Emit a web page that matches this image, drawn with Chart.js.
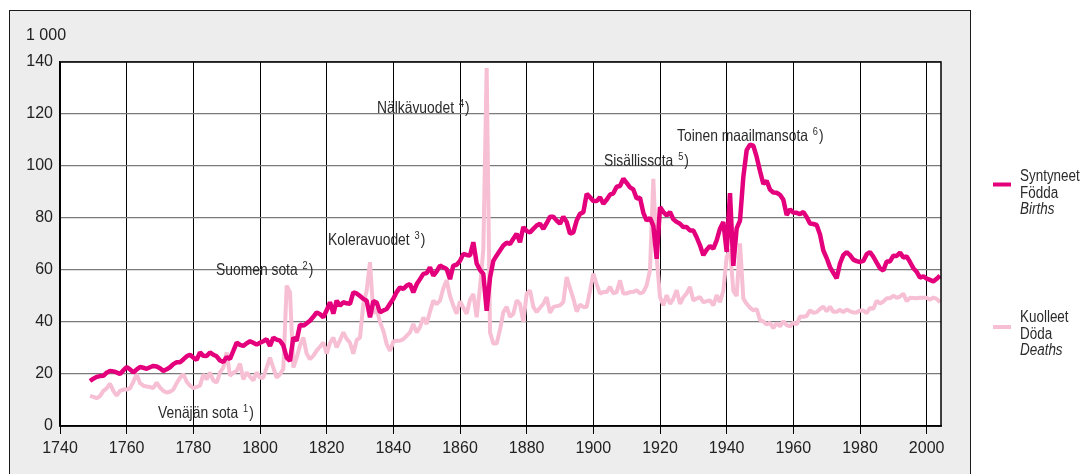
<!DOCTYPE html>
<html>
<head>
<meta charset="utf-8">
<script src="https://cdn.jsdelivr.net/npm/chart.js@4.4.1/dist/chart.umd.min.js"></script>
<style>
html,body{margin:0;padding:0;background:#fff;}
#c{display:block;}
</style>
</head>
<body>
<canvas id="c" width="1084" height="474"></canvas>
<script>
// ---- data ----
const firstYear = 1749;
const births = [
17.3,
18.2,18.9,19.2,19.3,20.5,21.2,21.0,20.6,20.0,21.4,
22.7,21.8,20.6,21.7,22.7,22.4,22.0,22.6,23.1,22.9,
22.2,21.2,21.8,22.6,23.8,24.5,24.5,25.6,26.8,27.4,
26.3,25.4,28.3,27.0,26.9,28.3,27.4,26.8,25.2,24.6,
26.5,25.8,28.9,32.1,31.2,30.8,31.8,32.6,32.0,31.3,
32.0,32.6,33.4,30.8,34.0,33.2,32.8,31.0,26.3,25.0,
34.0,32.8,39.0,38.6,39.5,40.5,42.0,43.7,43.0,41.8,
44.5,47.6,43.2,48.2,46.3,47.6,47.2,47.0,51.4,51.0,
50.0,48.9,48.2,41.8,48.0,47.5,43.7,44.4,45.0,47.0,
48.9,51.5,53.3,52.7,54.0,54.6,51.4,54.5,56.5,58.5,
58.8,61.0,57.8,59.5,61.7,61.0,60.4,56.5,61.7,62.0,
63.5,66.2,65.8,65.6,70.7,62.5,60.0,58.5,44.3,57.0,
63.5,65.6,67.5,69.4,70.5,70.0,72.0,73.9,70.7,76.5,
75.0,74.5,75.8,77.1,77.8,75.8,78.0,80.5,80.5,79.0,
77.8,80.5,78.5,74.0,74.5,79.0,81.6,82.2,89.3,88.0,
86.5,86.5,88.0,85.5,87.0,89.0,89.5,92.0,92.3,95.1,
93.5,91.8,91.0,87.5,87.8,82.0,79.0,80.0,77.0,64.3,
84.2,82.3,81.0,82.3,79.5,78.5,77.8,76.5,76.5,75.2,
75.2,72.6,69.5,65.7,67.8,69.2,68.2,71.4,75.9,78.5,
67.0,89.6,61.6,76.0,79.0,95.8,106.1,108.2,107.8,103.5,
98.1,93.1,94.3,90.9,89.8,89.7,88.9,87.0,81.1,83.3,
82.1,82.0,81.5,82.3,80.4,77.9,77.7,77.3,73.7,67.5,
64.6,61.1,58.9,56.8,62.5,65.7,66.9,65.7,64.0,63.4,
63.1,63.5,66.1,66.9,65.1,62.8,60.6,59.8,63.3,63.3,
65.5,65.4,66.7,64.8,65.2,63.1,60.7,59.3,57.1,57.6,
56.7,56.2,55.6,56.6,57.8
];
const deaths = [
11.6,
11.2,10.7,11.5,13.5,14.5,16.3,13.5,11.7,13.5,14.0,
14.0,14.5,17.0,19.9,16.5,15.5,15.2,15.0,14.6,16.7,
14.8,13.5,12.9,13.2,14.0,16.5,18.5,20.0,17.0,15.5,
14.6,15.0,15.5,19.9,17.9,20.6,17.5,16.7,20.6,22.5,
28.3,19.3,20.5,21.2,24.0,17.9,20.6,19.0,17.5,20.6,
18.6,18.6,22.5,26.3,22.4,18.6,19.9,22.0,54.0,51.4,
22.5,26.3,31.0,34.0,27.8,25.7,27.0,29.0,30.5,32.1,
27.8,32.0,34.0,30.2,33.0,36.0,33.5,32.0,27.8,33.0,
34.0,46.9,52.0,63.0,43.2,45.0,40.0,36.6,31.5,28.9,
32.5,32.8,32.8,33.4,34.7,36.0,39.2,36.0,38.0,41.8,
39.2,44.0,48.2,46.9,48.2,53.0,56.0,50.0,46.3,43.2,
48.0,45.5,43.2,48.5,50.8,41.8,53.3,68.0,137.7,36.0,
31.7,31.7,37.0,43.8,45.8,42.0,43.2,48.3,47.0,40.0,
50.9,52.2,45.8,43.8,45.5,47.0,49.6,43.5,45.8,46.1,
46.4,47.7,57.3,53.0,49.0,44.0,46.7,45.8,45.8,52.0,
58.6,54.5,50.9,51.5,51.5,53.5,51.0,51.5,56.0,51.0,
51.0,51.5,51.6,52.2,51.0,51.5,54.1,59.9,95.1,65.0,
49.6,46.4,50.3,47.0,49.0,52.2,47.0,49.5,51.0,53.5,
48.3,49.0,49.6,47.6,48.0,48.3,46.4,50.3,47.6,52.0,
65.0,68.0,52.0,50.0,70.2,49.0,47.0,45.5,44.5,45.0,
40.7,40.2,39.0,39.7,37.6,39.6,38.3,40.3,38.8,38.3,
39.8,39.0,42.1,42.0,42.3,44.5,43.5,43.8,45.0,45.9,
44.1,45.9,43.9,43.9,44.7,43.8,44.8,44.1,43.7,43.7,
44.4,44.4,43.4,45.4,45.1,48.2,47.1,47.9,49.1,49.1,
50.1,49.3,49.8,50.9,48.0,49.3,49.2,49.1,49.3,49.3,
49.3,48.6,49.4,48.9,47.6
];
const xTickLabels = [1740,1760,1780,1800,1820,1840,1860,1880,1900,1920,1940,1960,1980,2000];
const yTickLabels = [0,20,40,60,80,100,120,140];
const unitLabel = '1 000';
const birthsLegend = ['Syntyneet','Födda','Births'];
const deathsLegend = ['Kuolleet','Döda','Deaths'];
const eventNames = ['Venäjän sota','Suomen sota','Koleravuodet','Nälkävuodet','Sisällissota','Toinen maailmansota'];
const eventNotes = ['1','2','3','4','5','6'];

// ---- build ----
const toPoints = arr => arr.map((v,i)=>({x:firstYear+i, y:v}));
const BIRTH_COL = '#e4007c';
const DEATH_COL = '#f7bfd3';
const FONT = '"Liberation Sans", Arial, sans-serif';
const W = 1084, H = 474;

function narrowText(ctx, str, x, y, size, opts){
  opts = opts || {};
  const sx = 0.84;
  ctx.save();
  ctx.translate(x, y);
  ctx.scale(sx, 1);
  ctx.font = (opts.italic ? 'italic ' : '') + size + 'px ' + FONT;
  ctx.fillStyle = opts.color || '#2b2b2b';
  ctx.textBaseline = 'alphabetic';
  ctx.textAlign = 'left';
  ctx.fillText(str, 0, 0);
  const w = ctx.measureText(str).width * sx;
  ctx.restore();
  return w;
}
function annotate(ctx, name, note, x, y){
  let w = narrowText(ctx, name + ' ', x, y, 16.5);
  let w2 = narrowText(ctx, note, x + w + 1, y - 6, 11);
  narrowText(ctx, ')', x + w + w2 + 2, y, 16.5);
}
const eventPos = [[158,418],[216,275],[328,245],[377,113],[604,166],[677,141]];

const decor = {
  id: 'decor',
  beforeDraw(chart){
    const ctx = chart.ctx, a = chart.chartArea;
    ctx.save();
    ctx.fillStyle = '#fff';
    ctx.fillRect(0,0,W,H);
    ctx.fillStyle = '#ededed';
    ctx.fillRect(9,10,962,480);
    ctx.strokeStyle = '#1a1a1a';
    ctx.lineWidth = 1;
    ctx.strokeRect(9.5,10.5,961,480);
    ctx.fillStyle = '#fff';
    ctx.fillRect(a.left, a.top, a.right-a.left, a.bottom-a.top);
    ctx.restore();
  },
  afterDraw(chart){
    const ctx = chart.ctx, a = chart.chartArea;
    ctx.save();
    ctx.strokeStyle = '#000';
    ctx.lineWidth = 1.5;
    ctx.strokeRect(a.left, a.top, a.right-a.left, a.bottom-a.top);
    // unit label
    ctx.font = '16px ' + FONT;
    ctx.fillStyle = '#222';
    ctx.textBaseline = 'alphabetic';
    ctx.fillText(unitLabel, 26, 40);
    // annotations
    eventNames.forEach((n,i)=>annotate(ctx, n, eventNotes[i], eventPos[i][0], eventPos[i][1]));
    // legend
    ctx.lineWidth = 4;
    ctx.strokeStyle = BIRTH_COL;
    ctx.beginPath(); ctx.moveTo(993,184.5); ctx.lineTo(1011,184.5); ctx.stroke();
    ctx.strokeStyle = DEATH_COL;
    ctx.beginPath(); ctx.moveTo(993,327); ctx.lineTo(1011,327); ctx.stroke();
    const lx = 1020;
    birthsLegend.forEach((t,i)=>narrowText(ctx, t, lx, 181 + i*16.5, 16, {italic: i===2}));
    deathsLegend.forEach((t,i)=>narrowText(ctx, t, lx, 322 + i*16.5, 16, {italic: i===2}));
    ctx.restore();
  }
};

new Chart(document.getElementById('c'), {
  type: 'line',
  data: {
    datasets: [
      {label: 'Births', data: toPoints(births), borderColor: BIRTH_COL, borderWidth: 4.5, pointRadius: 0, tension: 0, borderJoinStyle: 'bevel', fill: false},
      {label: 'Deaths', data: toPoints(deaths), borderColor: DEATH_COL, borderWidth: 4, pointRadius: 0, tension: 0, borderJoinStyle: 'bevel', fill: false}
    ]
  },
  options: {
    responsive: false,
    animation: false,
    events: [],
    layout: {padding: {left: 0, top: 62, right: 143, bottom: 0}},
    plugins: {legend: {display: false}, tooltip: {enabled: false}},
    scales: {
      x: {
        type: 'linear', min: 1740, max: 2004.3,
        afterBuildTicks: s => { s.ticks = xTickLabels.map(v => ({value: v})); },
        afterFit: s => { s.height = 48; },
        grid: {color: '#000', lineWidth: 1, drawTicks: true, tickLength: 8, tickColor: '#000'},
        border: {display: true, color: '#000', width: 1.5},
        ticks: {padding: 5, maxRotation: 0, autoSkip: false, color: '#222', font: {family: FONT, size: 16}, callback: v => String(v)}
      },
      y: {
        min: 0, max: 140,
        afterBuildTicks: s => { s.ticks = yTickLabels.map(v => ({value: v})); },
        afterFit: s => { s.width = 60; },
        grid: {color: c => (c.tick && c.tick.value === 0) ? '#000' : '#7a7a7a', lineWidth: 1.3, drawTicks: false},
        border: {display: true, color: '#000', width: 1.5},
        ticks: {padding: 7, color: '#222', font: {family: FONT, size: 16}, callback: v => String(v)}
      }
    }
  },
  plugins: [decor]
});
</script>
</body>
</html>
